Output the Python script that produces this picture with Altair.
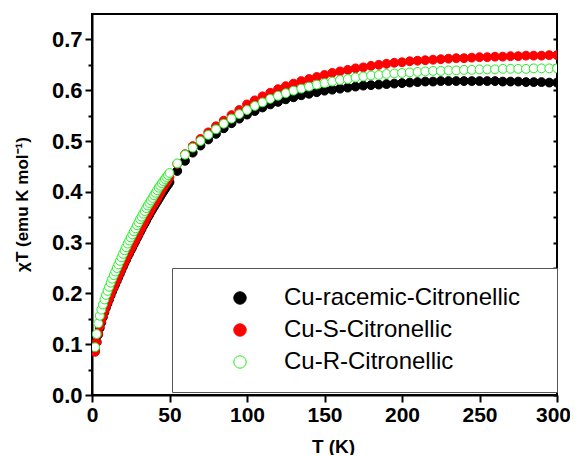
import altair as alt
import pandas as pd

series_names = ["Cu-racemic-Citronellic", "Cu-S-Citronellic", "Cu-R-Citronellic"]

temps = [2, 3, 4, 5, 6, 7, 8, 9, 10, 11, 12, 13, 14, 15, 16, 17, 18, 19, 20, 21,
         22, 23, 24, 25, 26, 27, 28, 29, 30, 31, 32, 33, 34, 35, 36, 37, 38, 39, 40, 41,
         42, 43, 44, 45, 46, 47, 48, 49, 50,
         55, 60, 65, 70, 75, 80, 85, 90, 95, 100,
         105, 110, 115, 120, 125, 130, 135, 140, 145, 150,
         155, 160, 165, 170, 175, 180, 185, 190, 195, 200,
         205, 210, 215, 220, 225, 230, 235, 240, 245, 250,
         255, 260, 265, 270, 275, 280, 285, 290, 295, 300]

racemic = [0.087, 0.104, 0.119, 0.132, 0.143, 0.153, 0.163, 0.172, 0.180, 0.188,
           0.196, 0.204, 0.211, 0.218, 0.225, 0.232, 0.239, 0.246, 0.253, 0.260,
           0.266, 0.273, 0.279, 0.285, 0.291, 0.297, 0.303, 0.309, 0.315, 0.321,
           0.327, 0.333, 0.338, 0.344, 0.350, 0.355, 0.361, 0.366, 0.371, 0.376,
           0.381, 0.386, 0.391, 0.396, 0.401, 0.405, 0.410, 0.414, 0.419,
           0.441, 0.461, 0.477, 0.491, 0.503, 0.514, 0.525, 0.535, 0.544, 0.552,
           0.559, 0.566, 0.572, 0.577, 0.582, 0.586, 0.590, 0.593, 0.596, 0.599,
           0.601, 0.603, 0.605, 0.607, 0.609, 0.610, 0.611, 0.612, 0.613, 0.614,
           0.615, 0.616, 0.617, 0.617, 0.618, 0.618, 0.618, 0.618, 0.618, 0.618,
           0.618, 0.618, 0.617, 0.617, 0.617, 0.616, 0.616, 0.616, 0.615, 0.615]

s_form = [0.085, 0.104, 0.121, 0.135, 0.146, 0.156, 0.166, 0.175, 0.183, 0.191,
          0.199, 0.207, 0.214, 0.221, 0.228, 0.235, 0.242, 0.249, 0.256, 0.263,
          0.269, 0.276, 0.282, 0.288, 0.294, 0.300, 0.306, 0.312, 0.318, 0.325,
          0.330, 0.337, 0.342, 0.349, 0.354, 0.360, 0.365, 0.371, 0.376, 0.382,
          0.387, 0.393, 0.398, 0.404, 0.409, 0.414, 0.419, 0.424, 0.429,
          0.455, 0.474, 0.490, 0.504, 0.517, 0.529, 0.540, 0.551, 0.561, 0.572,
          0.580, 0.588, 0.595, 0.602, 0.608, 0.613, 0.618, 0.622, 0.626, 0.630,
          0.634, 0.637, 0.640, 0.643, 0.645, 0.648, 0.650, 0.652, 0.654, 0.655,
          0.657, 0.658, 0.659, 0.660, 0.661, 0.662, 0.663, 0.663, 0.664, 0.665,
          0.665, 0.666, 0.666, 0.667, 0.667, 0.668, 0.668, 0.668, 0.669, 0.669]

r_form = [0.094, 0.120, 0.141, 0.156, 0.168, 0.178, 0.188, 0.197, 0.205, 0.213,
          0.221, 0.229, 0.236, 0.243, 0.250, 0.257, 0.264, 0.271, 0.278, 0.285,
          0.291, 0.298, 0.304, 0.310, 0.316, 0.322, 0.328, 0.334, 0.340, 0.346,
          0.351, 0.357, 0.362, 0.368, 0.373, 0.378, 0.383, 0.388, 0.393, 0.398,
          0.403, 0.408, 0.412, 0.417, 0.421, 0.425, 0.429, 0.433, 0.437,
          0.456, 0.473, 0.487, 0.500, 0.512, 0.523, 0.534, 0.544, 0.553, 0.561,
          0.569, 0.576, 0.583, 0.589, 0.594, 0.599, 0.603, 0.607, 0.611, 0.614,
          0.617, 0.620, 0.622, 0.625, 0.627, 0.629, 0.630, 0.632, 0.633, 0.634,
          0.635, 0.636, 0.637, 0.638, 0.638, 0.639, 0.639, 0.640, 0.640, 0.641,
          0.641, 0.641, 0.642, 0.642, 0.642, 0.642, 0.643, 0.643, 0.643, 0.643]

x_ticks = [0, 25, 50, 75, 100, 125, 150, 175, 200, 225, 250, 275, 300]
y_ticks = [0.0, 0.05, 0.1, 0.15, 0.2, 0.25, 0.3, 0.35, 0.4, 0.45, 0.5, 0.55, 0.6, 0.65, 0.7]

fill_colors = ["#000000", "#ff0000", "#ffffff"]
stroke_colors = ["#000000", "#ff0000", "#22ee22"]

rows = []
for name, vals in zip(series_names, [racemic, s_form, r_form]):
    for t, v in zip(temps, vals):
        rows.append({"series": name, "T": t, "chiT": v})
df = pd.DataFrame(rows)

FONT = "Liberation Sans"

x_enc = alt.X(
    "T:Q",
    scale=alt.Scale(domain=[0, 300], nice=False, zero=False),
    axis=alt.Axis(
        title="T (K)", values=x_ticks, grid=False,
        labelExpr="datum.value % 50 === 0 ? datum.label : ''",
        tickSize={"condition": {"test": "datum.value % 50 === 0", "value": 7}, "value": 4},
        labelOffset={"condition": {"test": "datum.value === 300", "value": -4}, "value": 0},
        labelPadding=2, labelFontSize=21, labelFontWeight="bold", labelFont=FONT,
        labelColor="#000", labelFlush=False,
        titleFontSize=19, titleFont=FONT, titleFontWeight="bold", titleColor="#000",
        titleX=241, titleY=51, titleBaseline="middle", titleAlign="center",
    ),
)

y_enc = alt.Y(
    "chiT:Q",
    scale=alt.Scale(domain=[0, 0.75], nice=False),
    axis=alt.Axis(
        title="χT (emu K mol⁻¹)", values=y_ticks, grid=False,
        labelExpr="abs(datum.value*10 - round(datum.value*10)) < 0.001 ? format(datum.value, '.1f') : ''",
        tickSize={"condition": {"test": "abs(datum.value*10 - round(datum.value*10)) < 0.001", "value": 7}, "value": 4},
        labelPadding=3, labelFontSize=22, labelFontWeight="bold", labelFont=FONT,
        labelColor="#000", labelFlush=False,
        titleFontSize=17, titleFont=FONT, titleFontWeight="bold", titleColor="#000",
        titleX=-70, titleY=190, titleBaseline="middle", titleAlign="center",
    ),
)

legend = alt.Legend(
    title=None, orient="none", legendX=80, legendY=254,
    padding=18, rowPadding=8, symbolOffset=38, labelOffset=32,
    labelFontSize=24, labelFont=FONT, labelColor="#000", labelLimit=1000,
    symbolSize=154, symbolStrokeWidth=1, symbolType="circle",
    strokeColor="#555", fillColor="#ffffff",
    labelExpr="datum.label + '\u2800'",
)

points = alt.Chart(df).mark_point(filled=False, size=78, strokeWidth=1, opacity=1, clip=True).encode(
    x=x_enc,
    y=y_enc,
    fill=alt.Fill("series:N", scale=alt.Scale(domain=series_names, range=fill_colors), legend=legend, sort=series_names),
    stroke=alt.Stroke("series:N", scale=alt.Scale(domain=series_names, range=stroke_colors), legend=legend, sort=series_names),
)

right_ticks = alt.Chart(df).mark_point(opacity=0).encode(
    x=alt.X("T:Q", scale=alt.Scale(domain=[0, 300], nice=False, zero=False)),
    y=alt.Y(
        "chiT:Q",
        scale=alt.Scale(domain=[0, 0.75], nice=False),
        axis=alt.Axis(orient="right", title=None, values=y_ticks, labels=False, domain=False,
                      grid=False, tickSize=4, offset=-4, tickWidth=2, tickColor="#000"),
    ),
)

chart = alt.layer(points, right_ticks).resolve_scale(y="independent").properties(
    width=465, height=381,
    autosize=alt.AutoSizeParams(type="none"),
    padding={"left": 84, "top": 6, "right": 13, "bottom": 60},
).configure_view(
    stroke="#000", strokeWidth=2
).configure_axis(
    domainColor="#000", domainWidth=2, tickColor="#000", tickWidth=2,
)

chart.save("out.html", embed_options={"renderer": "svg", "actions": False})
